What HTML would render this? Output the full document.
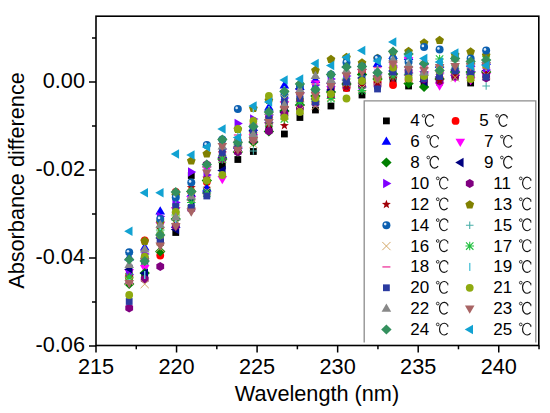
<!DOCTYPE html>
<html><head><meta charset="utf-8"><style>
html,body{margin:0;padding:0;background:#fff;}
svg{display:block;}
.t{font-family:"Liberation Sans",sans-serif;font-size:21.7px;fill:#000;}
.l{font-family:"Liberation Sans",sans-serif;font-size:17px;fill:#000;}
</style></head><body>
<svg width="550" height="413" viewBox="0 0 550 413">
<rect width="550" height="413" fill="#fff"/>
<rect x="125.80" y="276.60" width="6.80" height="6.80" fill="#000000"/>
<rect x="141.32" y="272.60" width="6.80" height="6.80" fill="#000000"/>
<rect x="156.84" y="239.10" width="6.80" height="6.80" fill="#000000"/>
<rect x="172.36" y="229.10" width="6.80" height="6.80" fill="#000000"/>
<rect x="187.88" y="172.10" width="6.80" height="6.80" fill="#000000"/>
<rect x="203.40" y="186.60" width="6.80" height="6.80" fill="#000000"/>
<rect x="218.92" y="162.60" width="6.80" height="6.80" fill="#000000"/>
<rect x="234.44" y="156.10" width="6.80" height="6.80" fill="#000000"/>
<rect x="249.96" y="148.10" width="6.80" height="6.80" fill="#000000"/>
<rect x="265.48" y="123.60" width="6.80" height="6.80" fill="#000000"/>
<rect x="281.00" y="130.60" width="6.80" height="6.80" fill="#000000"/>
<rect x="296.52" y="114.10" width="6.80" height="6.80" fill="#000000"/>
<rect x="312.04" y="106.60" width="6.80" height="6.80" fill="#000000"/>
<rect x="327.56" y="102.60" width="6.80" height="6.80" fill="#000000"/>
<rect x="343.08" y="84.60" width="6.80" height="6.80" fill="#000000"/>
<rect x="358.60" y="91.60" width="6.80" height="6.80" fill="#000000"/>
<rect x="374.12" y="82.60" width="6.80" height="6.80" fill="#000000"/>
<rect x="389.64" y="76.60" width="6.80" height="6.80" fill="#000000"/>
<rect x="405.16" y="82.60" width="6.80" height="6.80" fill="#000000"/>
<rect x="420.68" y="80.60" width="6.80" height="6.80" fill="#000000"/>
<rect x="436.20" y="78.60" width="6.80" height="6.80" fill="#000000"/>
<rect x="451.72" y="73.60" width="6.80" height="6.80" fill="#000000"/>
<rect x="467.24" y="79.60" width="6.80" height="6.80" fill="#000000"/>
<rect x="482.76" y="71.60" width="6.80" height="6.80" fill="#000000"/>
<circle cx="129.20" cy="275.00" r="3.90" fill="#FF0000"/>
<circle cx="144.72" cy="240.50" r="3.90" fill="#FF0000"/>
<circle cx="160.24" cy="255.50" r="3.90" fill="#FF0000"/>
<circle cx="175.76" cy="192.00" r="3.90" fill="#FF0000"/>
<circle cx="191.28" cy="191.50" r="3.90" fill="#FF0000"/>
<circle cx="206.80" cy="182.00" r="3.90" fill="#FF0000"/>
<circle cx="222.32" cy="159.00" r="3.90" fill="#FF0000"/>
<circle cx="237.84" cy="141.00" r="3.90" fill="#FF0000"/>
<circle cx="253.36" cy="133.00" r="3.90" fill="#FF0000"/>
<circle cx="268.88" cy="117.50" r="3.90" fill="#FF0000"/>
<circle cx="284.40" cy="107.00" r="3.90" fill="#FF0000"/>
<circle cx="299.92" cy="100.00" r="3.90" fill="#FF0000"/>
<circle cx="315.44" cy="92.00" r="3.90" fill="#FF0000"/>
<circle cx="330.96" cy="88.00" r="3.90" fill="#FF0000"/>
<circle cx="346.48" cy="88.00" r="3.90" fill="#FF0000"/>
<circle cx="362.00" cy="72.00" r="3.90" fill="#FF0000"/>
<circle cx="377.52" cy="82.00" r="3.90" fill="#FF0000"/>
<circle cx="393.04" cy="85.00" r="3.90" fill="#FF0000"/>
<circle cx="408.56" cy="80.00" r="3.90" fill="#FF0000"/>
<circle cx="424.08" cy="80.00" r="3.90" fill="#FF0000"/>
<circle cx="439.60" cy="78.00" r="3.90" fill="#FF0000"/>
<circle cx="455.12" cy="74.00" r="3.90" fill="#FF0000"/>
<circle cx="470.64" cy="61.50" r="3.90" fill="#FF0000"/>
<circle cx="486.16" cy="73.00" r="3.90" fill="#FF0000"/>
<polygon points="129.20,252.30 134.00,260.60 124.40,260.60" fill="#0000FF"/>
<polygon points="144.72,242.20 149.52,250.50 139.92,250.50" fill="#0000FF"/>
<polygon points="160.24,206.30 165.04,214.60 155.44,214.60" fill="#0000FF"/>
<polygon points="175.76,219.80 180.56,228.10 170.96,228.10" fill="#0000FF"/>
<polygon points="191.28,188.80 196.08,197.10 186.48,197.10" fill="#0000FF"/>
<polygon points="206.80,183.30 211.60,191.60 202.00,191.60" fill="#0000FF"/>
<polygon points="222.32,149.80 227.12,158.10 217.52,158.10" fill="#0000FF"/>
<polygon points="237.84,140.80 242.64,149.10 233.04,149.10" fill="#0000FF"/>
<polygon points="253.36,122.80 258.16,131.10 248.56,131.10" fill="#0000FF"/>
<polygon points="268.88,102.30 273.68,110.60 264.08,110.60" fill="#0000FF"/>
<polygon points="284.40,80.30 289.20,88.60 279.60,88.60" fill="#0000FF"/>
<polygon points="299.92,81.80 304.72,90.10 295.12,90.10" fill="#0000FF"/>
<polygon points="315.44,74.80 320.24,83.10 310.64,83.10" fill="#0000FF"/>
<polygon points="330.96,75.80 335.76,84.10 326.16,84.10" fill="#0000FF"/>
<polygon points="346.48,59.80 351.28,68.10 341.68,68.10" fill="#0000FF"/>
<polygon points="362.00,58.80 366.80,67.10 357.20,67.10" fill="#0000FF"/>
<polygon points="377.52,58.80 382.32,67.10 372.72,67.10" fill="#0000FF"/>
<polygon points="393.04,50.80 397.84,59.10 388.24,59.10" fill="#0000FF"/>
<polygon points="408.56,51.80 413.36,60.10 403.76,60.10" fill="#0000FF"/>
<polygon points="424.08,56.80 428.88,65.10 419.28,65.10" fill="#0000FF"/>
<polygon points="439.60,59.80 444.40,68.10 434.80,68.10" fill="#0000FF"/>
<polygon points="455.12,67.80 459.92,76.10 450.32,76.10" fill="#0000FF"/>
<polygon points="470.64,58.80 475.44,67.10 465.84,67.10" fill="#0000FF"/>
<polygon points="486.16,56.80 490.96,65.10 481.36,65.10" fill="#0000FF"/>
<polygon points="129.20,277.20 134.00,268.90 124.40,268.90" fill="#FF00FF"/>
<polygon points="144.72,273.20 149.52,264.90 139.92,264.90" fill="#FF00FF"/>
<polygon points="160.24,230.20 165.04,221.90 155.44,221.90" fill="#FF00FF"/>
<polygon points="175.76,215.20 180.56,206.90 170.96,206.90" fill="#FF00FF"/>
<polygon points="191.28,204.20 196.08,195.90 186.48,195.90" fill="#FF00FF"/>
<polygon points="206.80,174.20 211.60,165.90 202.00,165.90" fill="#FF00FF"/>
<polygon points="222.32,184.20 227.12,175.90 217.52,175.90" fill="#FF00FF"/>
<polygon points="237.84,155.20 242.64,146.90 233.04,146.90" fill="#FF00FF"/>
<polygon points="253.36,142.20 258.16,133.90 248.56,133.90" fill="#FF00FF"/>
<polygon points="268.88,130.20 273.68,121.90 264.08,121.90" fill="#FF00FF"/>
<polygon points="284.40,109.20 289.20,100.90 279.60,100.90" fill="#FF00FF"/>
<polygon points="299.92,113.20 304.72,104.90 295.12,104.90" fill="#FF00FF"/>
<polygon points="315.44,88.70 320.24,80.40 310.64,80.40" fill="#FF00FF"/>
<polygon points="330.96,94.20 335.76,85.90 326.16,85.90" fill="#FF00FF"/>
<polygon points="346.48,90.20 351.28,81.90 341.68,81.90" fill="#FF00FF"/>
<polygon points="362.00,77.20 366.80,68.90 357.20,68.90" fill="#FF00FF"/>
<polygon points="377.52,85.20 382.32,76.90 372.72,76.90" fill="#FF00FF"/>
<polygon points="393.04,75.20 397.84,66.90 388.24,66.90" fill="#FF00FF"/>
<polygon points="408.56,65.20 413.36,56.90 403.76,56.90" fill="#FF00FF"/>
<polygon points="424.08,79.20 428.88,70.90 419.28,70.90" fill="#FF00FF"/>
<polygon points="439.60,90.70 444.40,82.40 434.80,82.40" fill="#FF00FF"/>
<polygon points="455.12,82.70 459.92,74.40 450.32,74.40" fill="#FF00FF"/>
<polygon points="470.64,85.20 475.44,76.90 465.84,76.90" fill="#FF00FF"/>
<polygon points="486.16,81.20 490.96,72.90 481.36,72.90" fill="#FF00FF"/>
<polygon points="129.20,279.10 134.40,284.10 129.20,289.10 124.00,284.10" fill="#008000"/>
<polygon points="144.72,268.00 149.92,273.00 144.72,278.00 139.52,273.00" fill="#008000"/>
<polygon points="160.24,246.50 165.44,251.50 160.24,256.50 155.04,251.50" fill="#008000"/>
<polygon points="175.76,214.00 180.96,219.00 175.76,224.00 170.56,219.00" fill="#008000"/>
<polygon points="191.28,186.50 196.48,191.50 191.28,196.50 186.08,191.50" fill="#008000"/>
<polygon points="206.80,175.50 212.00,180.50 206.80,185.50 201.60,180.50" fill="#008000"/>
<polygon points="222.32,154.00 227.52,159.00 222.32,164.00 217.12,159.00" fill="#008000"/>
<polygon points="237.84,147.00 243.04,152.00 237.84,157.00 232.64,152.00" fill="#008000"/>
<polygon points="253.36,137.00 258.56,142.00 253.36,147.00 248.16,142.00" fill="#008000"/>
<polygon points="268.88,126.50 274.08,131.50 268.88,136.50 263.68,131.50" fill="#008000"/>
<polygon points="284.40,106.00 289.60,111.00 284.40,116.00 279.20,111.00" fill="#008000"/>
<polygon points="299.92,100.00 305.12,105.00 299.92,110.00 294.72,105.00" fill="#008000"/>
<polygon points="315.44,91.00 320.64,96.00 315.44,101.00 310.24,96.00" fill="#008000"/>
<polygon points="330.96,87.00 336.16,92.00 330.96,97.00 325.76,92.00" fill="#008000"/>
<polygon points="346.48,79.00 351.68,84.00 346.48,89.00 341.28,84.00" fill="#008000"/>
<polygon points="362.00,69.50 367.20,74.50 362.00,79.50 356.80,74.50" fill="#008000"/>
<polygon points="377.52,74.00 382.72,79.00 377.52,84.00 372.32,79.00" fill="#008000"/>
<polygon points="393.04,69.00 398.24,74.00 393.04,79.00 387.84,74.00" fill="#008000"/>
<polygon points="408.56,78.50 413.76,83.50 408.56,88.50 403.36,83.50" fill="#008000"/>
<polygon points="424.08,82.00 429.28,87.00 424.08,92.00 418.88,87.00" fill="#008000"/>
<polygon points="439.60,74.00 444.80,79.00 439.60,84.00 434.40,79.00" fill="#008000"/>
<polygon points="455.12,67.00 460.32,72.00 455.12,77.00 449.92,72.00" fill="#008000"/>
<polygon points="470.64,67.00 475.84,72.00 470.64,77.00 465.44,72.00" fill="#008000"/>
<polygon points="486.16,67.00 491.36,72.00 486.16,77.00 480.96,72.00" fill="#008000"/>
<polygon points="124.20,269.40 132.50,264.60 132.50,274.20" fill="#000080"/>
<polygon points="139.72,273.20 148.02,268.40 148.02,278.00" fill="#000080"/>
<polygon points="155.24,238.00 163.54,233.20 163.54,242.80" fill="#000080"/>
<polygon points="170.76,229.50 179.06,224.70 179.06,234.30" fill="#000080"/>
<polygon points="186.28,200.00 194.58,195.20 194.58,204.80" fill="#000080"/>
<polygon points="201.80,193.00 210.10,188.20 210.10,197.80" fill="#000080"/>
<polygon points="217.32,170.50 225.62,165.70 225.62,175.30" fill="#000080"/>
<polygon points="232.84,147.00 241.14,142.20 241.14,151.80" fill="#000080"/>
<polygon points="248.36,131.00 256.66,126.20 256.66,135.80" fill="#000080"/>
<polygon points="263.88,120.00 272.18,115.20 272.18,124.80" fill="#000080"/>
<polygon points="279.40,112.50 287.70,107.70 287.70,117.30" fill="#000080"/>
<polygon points="294.92,88.50 303.22,83.70 303.22,93.30" fill="#000080"/>
<polygon points="310.44,99.00 318.74,94.20 318.74,103.80" fill="#000080"/>
<polygon points="325.96,90.00 334.26,85.20 334.26,94.80" fill="#000080"/>
<polygon points="341.48,80.00 349.78,75.20 349.78,84.80" fill="#000080"/>
<polygon points="357.00,78.00 365.30,73.20 365.30,82.80" fill="#000080"/>
<polygon points="372.52,76.00 380.82,71.20 380.82,80.80" fill="#000080"/>
<polygon points="388.04,71.00 396.34,66.20 396.34,75.80" fill="#000080"/>
<polygon points="403.56,75.00 411.86,70.20 411.86,79.80" fill="#000080"/>
<polygon points="419.08,81.50 427.38,76.70 427.38,86.30" fill="#000080"/>
<polygon points="434.60,77.00 442.90,72.20 442.90,81.80" fill="#000080"/>
<polygon points="450.12,70.00 458.42,65.20 458.42,74.80" fill="#000080"/>
<polygon points="465.64,74.00 473.94,69.20 473.94,78.80" fill="#000080"/>
<polygon points="481.16,71.00 489.46,66.20 489.46,75.80" fill="#000080"/>
<polygon points="134.20,274.50 125.90,269.70 125.90,279.30" fill="#8000FF"/>
<polygon points="149.72,253.90 141.42,249.10 141.42,258.70" fill="#8000FF"/>
<polygon points="165.24,216.50 156.94,211.70 156.94,221.30" fill="#8000FF"/>
<polygon points="180.76,202.50 172.46,197.70 172.46,207.30" fill="#8000FF"/>
<polygon points="196.28,172.00 187.98,167.20 187.98,176.80" fill="#8000FF"/>
<polygon points="211.80,175.00 203.50,170.20 203.50,179.80" fill="#8000FF"/>
<polygon points="227.32,149.00 219.02,144.20 219.02,153.80" fill="#8000FF"/>
<polygon points="242.84,123.50 234.54,118.70 234.54,128.30" fill="#8000FF"/>
<polygon points="258.36,119.00 250.06,114.20 250.06,123.80" fill="#8000FF"/>
<polygon points="273.88,115.00 265.58,110.20 265.58,119.80" fill="#8000FF"/>
<polygon points="289.40,98.00 281.10,93.20 281.10,102.80" fill="#8000FF"/>
<polygon points="304.92,93.00 296.62,88.20 296.62,97.80" fill="#8000FF"/>
<polygon points="320.44,85.00 312.14,80.20 312.14,89.80" fill="#8000FF"/>
<polygon points="335.96,79.00 327.66,74.20 327.66,83.80" fill="#8000FF"/>
<polygon points="351.48,76.00 343.18,71.20 343.18,80.80" fill="#8000FF"/>
<polygon points="367.00,87.00 358.70,82.20 358.70,91.80" fill="#8000FF"/>
<polygon points="382.52,74.00 374.22,69.20 374.22,78.80" fill="#8000FF"/>
<polygon points="398.04,66.00 389.74,61.20 389.74,70.80" fill="#8000FF"/>
<polygon points="413.56,73.00 405.26,68.20 405.26,77.80" fill="#8000FF"/>
<polygon points="429.08,73.00 420.78,68.20 420.78,77.80" fill="#8000FF"/>
<polygon points="444.60,73.00 436.30,68.20 436.30,77.80" fill="#8000FF"/>
<polygon points="460.12,71.00 451.82,66.20 451.82,75.80" fill="#8000FF"/>
<polygon points="475.64,71.50 467.34,66.70 467.34,76.30" fill="#8000FF"/>
<polygon points="491.16,70.00 482.86,65.20 482.86,74.80" fill="#8000FF"/>
<polygon points="129.20,303.60 133.10,305.85 133.10,310.35 129.20,312.60 125.30,310.35 125.30,305.85" fill="#800080"/>
<polygon points="144.72,274.70 148.62,276.95 148.62,281.45 144.72,283.70 140.82,281.45 140.82,276.95" fill="#800080"/>
<polygon points="160.24,262.00 164.14,264.25 164.14,268.75 160.24,271.00 156.34,268.75 156.34,264.25" fill="#800080"/>
<polygon points="175.76,221.50 179.66,223.75 179.66,228.25 175.76,230.50 171.86,228.25 171.86,223.75" fill="#800080"/>
<polygon points="191.28,204.50 195.18,206.75 195.18,211.25 191.28,213.50 187.38,211.25 187.38,206.75" fill="#800080"/>
<polygon points="206.80,160.00 210.70,162.25 210.70,166.75 206.80,169.00 202.90,166.75 202.90,162.25" fill="#800080"/>
<polygon points="222.32,154.50 226.22,156.75 226.22,161.25 222.32,163.50 218.42,161.25 218.42,156.75" fill="#800080"/>
<polygon points="237.84,147.50 241.74,149.75 241.74,154.25 237.84,156.50 233.94,154.25 233.94,149.75" fill="#800080"/>
<polygon points="253.36,135.50 257.26,137.75 257.26,142.25 253.36,144.50 249.46,142.25 249.46,137.75" fill="#800080"/>
<polygon points="268.88,126.50 272.78,128.75 272.78,133.25 268.88,135.50 264.98,133.25 264.98,128.75" fill="#800080"/>
<polygon points="284.40,109.50 288.30,111.75 288.30,116.25 284.40,118.50 280.50,116.25 280.50,111.75" fill="#800080"/>
<polygon points="299.92,103.50 303.82,105.75 303.82,110.25 299.92,112.50 296.02,110.25 296.02,105.75" fill="#800080"/>
<polygon points="315.44,98.50 319.34,100.75 319.34,105.25 315.44,107.50 311.54,105.25 311.54,100.75" fill="#800080"/>
<polygon points="330.96,91.50 334.86,93.75 334.86,98.25 330.96,100.50 327.06,98.25 327.06,93.75" fill="#800080"/>
<polygon points="346.48,81.50 350.38,83.75 350.38,88.25 346.48,90.50 342.58,88.25 342.58,83.75" fill="#800080"/>
<polygon points="362.00,81.50 365.90,83.75 365.90,88.25 362.00,90.50 358.10,88.25 358.10,83.75" fill="#800080"/>
<polygon points="377.52,80.50 381.42,82.75 381.42,87.25 377.52,89.50 373.62,87.25 373.62,82.75" fill="#800080"/>
<polygon points="393.04,72.50 396.94,74.75 396.94,79.25 393.04,81.50 389.14,79.25 389.14,74.75" fill="#800080"/>
<polygon points="408.56,66.50 412.46,68.75 412.46,73.25 408.56,75.50 404.66,73.25 404.66,68.75" fill="#800080"/>
<polygon points="424.08,74.50 427.98,76.75 427.98,81.25 424.08,83.50 420.18,81.25 420.18,76.75" fill="#800080"/>
<polygon points="439.60,76.50 443.50,78.75 443.50,83.25 439.60,85.50 435.70,83.25 435.70,78.75" fill="#800080"/>
<polygon points="455.12,71.50 459.02,73.75 459.02,78.25 455.12,80.50 451.22,78.25 451.22,73.75" fill="#800080"/>
<polygon points="470.64,70.50 474.54,72.75 474.54,77.25 470.64,79.50 466.74,77.25 466.74,72.75" fill="#800080"/>
<polygon points="486.16,73.50 490.06,75.75 490.06,80.25 486.16,82.50 482.26,80.25 482.26,75.75" fill="#800080"/>
<polygon points="129.20,272.40 130.35,275.52 133.67,275.65 131.05,277.70 131.96,280.90 129.20,279.05 126.44,280.90 127.35,277.70 124.73,275.65 128.05,275.52" fill="#A00008"/>
<polygon points="144.72,256.40 145.87,259.52 149.19,259.65 146.57,261.70 147.48,264.90 144.72,263.05 141.96,264.90 142.87,261.70 140.25,259.65 143.57,259.52" fill="#A00008"/>
<polygon points="160.24,224.40 161.39,227.52 164.71,227.65 162.09,229.70 163.00,232.90 160.24,231.05 157.48,232.90 158.39,229.70 155.77,227.65 159.09,227.52" fill="#A00008"/>
<polygon points="175.76,209.40 176.91,212.52 180.23,212.65 177.61,214.70 178.52,217.90 175.76,216.05 173.00,217.90 173.91,214.70 171.29,212.65 174.61,212.52" fill="#A00008"/>
<polygon points="191.28,182.90 192.43,186.02 195.75,186.15 193.13,188.20 194.04,191.40 191.28,189.55 188.52,191.40 189.43,188.20 186.81,186.15 190.13,186.02" fill="#A00008"/>
<polygon points="206.80,173.40 207.95,176.52 211.27,176.65 208.65,178.70 209.56,181.90 206.80,180.05 204.04,181.90 204.95,178.70 202.33,176.65 205.65,176.52" fill="#A00008"/>
<polygon points="222.32,147.90 223.47,151.02 226.79,151.15 224.17,153.20 225.08,156.40 222.32,154.55 219.56,156.40 220.47,153.20 217.85,151.15 221.17,151.02" fill="#A00008"/>
<polygon points="237.84,144.90 238.99,148.02 242.31,148.15 239.69,150.20 240.60,153.40 237.84,151.55 235.08,153.40 235.99,150.20 233.37,148.15 236.69,148.02" fill="#A00008"/>
<polygon points="253.36,134.40 254.51,137.52 257.83,137.65 255.21,139.70 256.12,142.90 253.36,141.05 250.60,142.90 251.51,139.70 248.89,137.65 252.21,137.52" fill="#A00008"/>
<polygon points="268.88,119.40 270.03,122.52 273.35,122.65 270.73,124.70 271.64,127.90 268.88,126.05 266.12,127.90 267.03,124.70 264.41,122.65 267.73,122.52" fill="#A00008"/>
<polygon points="284.40,120.90 285.55,124.02 288.87,124.15 286.25,126.20 287.16,129.40 284.40,127.55 281.64,129.40 282.55,126.20 279.93,124.15 283.25,124.02" fill="#A00008"/>
<polygon points="299.92,90.40 301.07,93.52 304.39,93.65 301.77,95.70 302.68,98.90 299.92,97.05 297.16,98.90 298.07,95.70 295.45,93.65 298.77,93.52" fill="#A00008"/>
<polygon points="315.44,95.40 316.59,98.52 319.91,98.65 317.29,100.70 318.20,103.90 315.44,102.05 312.68,103.90 313.59,100.70 310.97,98.65 314.29,98.52" fill="#A00008"/>
<polygon points="330.96,90.40 332.11,93.52 335.43,93.65 332.81,95.70 333.72,98.90 330.96,97.05 328.20,98.90 329.11,95.70 326.49,93.65 329.81,93.52" fill="#A00008"/>
<polygon points="346.48,82.40 347.63,85.52 350.95,85.65 348.33,87.70 349.24,90.90 346.48,89.05 343.72,90.90 344.63,87.70 342.01,85.65 345.33,85.52" fill="#A00008"/>
<polygon points="362.00,79.40 363.15,82.52 366.47,82.65 363.85,84.70 364.76,87.90 362.00,86.05 359.24,87.90 360.15,84.70 357.53,82.65 360.85,82.52" fill="#A00008"/>
<polygon points="377.52,78.40 378.67,81.52 381.99,81.65 379.37,83.70 380.28,86.90 377.52,85.05 374.76,86.90 375.67,83.70 373.05,81.65 376.37,81.52" fill="#A00008"/>
<polygon points="393.04,73.40 394.19,76.52 397.51,76.65 394.89,78.70 395.80,81.90 393.04,80.05 390.28,81.90 391.19,78.70 388.57,76.65 391.89,76.52" fill="#A00008"/>
<polygon points="408.56,72.40 409.71,75.52 413.03,75.65 410.41,77.70 411.32,80.90 408.56,79.05 405.80,80.90 406.71,77.70 404.09,75.65 407.41,75.52" fill="#A00008"/>
<polygon points="424.08,72.40 425.23,75.52 428.55,75.65 425.93,77.70 426.84,80.90 424.08,79.05 421.32,80.90 422.23,77.70 419.61,75.65 422.93,75.52" fill="#A00008"/>
<polygon points="439.60,75.90 440.75,79.02 444.07,79.15 441.45,81.20 442.36,84.40 439.60,82.55 436.84,84.40 437.75,81.20 435.13,79.15 438.45,79.02" fill="#A00008"/>
<polygon points="455.12,70.40 456.27,73.52 459.59,73.65 456.97,75.70 457.88,78.90 455.12,77.05 452.36,78.90 453.27,75.70 450.65,73.65 453.97,73.52" fill="#A00008"/>
<polygon points="470.64,65.40 471.79,68.52 475.11,68.65 472.49,70.70 473.40,73.90 470.64,72.05 467.88,73.90 468.79,70.70 466.17,68.65 469.49,68.52" fill="#A00008"/>
<polygon points="486.16,69.40 487.31,72.52 490.63,72.65 488.01,74.70 488.92,77.90 486.16,76.05 483.40,77.90 484.31,74.70 481.69,72.65 485.01,72.52" fill="#A00008"/>
<polygon points="129.20,274.40 133.57,277.58 131.90,282.72 126.50,282.72 124.83,277.58" fill="#808000"/>
<polygon points="144.72,236.60 149.09,239.78 147.42,244.92 142.02,244.92 140.35,239.78" fill="#808000"/>
<polygon points="160.24,217.80 164.61,220.98 162.94,226.12 157.54,226.12 155.87,220.98" fill="#808000"/>
<polygon points="175.76,190.80 180.13,193.98 178.46,199.12 173.06,199.12 171.39,193.98" fill="#808000"/>
<polygon points="191.28,156.30 195.65,159.48 193.98,164.62 188.58,164.62 186.91,159.48" fill="#808000"/>
<polygon points="206.80,149.30 211.17,152.48 209.50,157.62 204.10,157.62 202.43,152.48" fill="#808000"/>
<polygon points="222.32,135.30 226.69,138.48 225.02,143.62 219.62,143.62 217.95,138.48" fill="#808000"/>
<polygon points="237.84,124.80 242.21,127.98 240.54,133.12 235.14,133.12 233.47,127.98" fill="#808000"/>
<polygon points="253.36,103.80 257.73,106.98 256.06,112.12 250.66,112.12 248.99,106.98" fill="#808000"/>
<polygon points="268.88,95.80 273.25,98.98 271.58,104.12 266.18,104.12 264.51,98.98" fill="#808000"/>
<polygon points="284.40,87.30 288.77,90.48 287.10,95.62 281.70,95.62 280.03,90.48" fill="#808000"/>
<polygon points="299.92,79.80 304.29,82.98 302.62,88.12 297.22,88.12 295.55,82.98" fill="#808000"/>
<polygon points="315.44,65.80 319.81,68.98 318.14,74.12 312.74,74.12 311.07,68.98" fill="#808000"/>
<polygon points="330.96,54.80 335.33,57.98 333.66,63.12 328.26,63.12 326.59,57.98" fill="#808000"/>
<polygon points="346.48,52.80 350.85,55.98 349.18,61.12 343.78,61.12 342.11,55.98" fill="#808000"/>
<polygon points="362.00,58.30 366.37,61.48 364.70,66.62 359.30,66.62 357.63,61.48" fill="#808000"/>
<polygon points="377.52,53.80 381.89,56.98 380.22,62.12 374.82,62.12 373.15,56.98" fill="#808000"/>
<polygon points="393.04,47.30 397.41,50.48 395.74,55.62 390.34,55.62 388.67,50.48" fill="#808000"/>
<polygon points="408.56,46.80 412.93,49.98 411.26,55.12 405.86,55.12 404.19,49.98" fill="#808000"/>
<polygon points="424.08,38.30 428.45,41.48 426.78,46.62 421.38,46.62 419.71,41.48" fill="#808000"/>
<polygon points="439.60,35.80 443.97,38.98 442.30,44.12 436.90,44.12 435.23,38.98" fill="#808000"/>
<polygon points="455.12,50.30 459.49,53.48 457.82,58.62 452.42,58.62 450.75,53.48" fill="#808000"/>
<polygon points="470.64,47.30 475.01,50.48 473.34,55.62 467.94,55.62 466.27,50.48" fill="#808000"/>
<polygon points="486.16,50.80 490.53,53.98 488.86,59.12 483.46,59.12 481.79,53.98" fill="#808000"/>
<circle cx="129.20" cy="252.30" r="4.00" fill="#0B5FB0"/><circle cx="128.00" cy="251.20" r="1.30" fill="#d8e8f8"/>
<circle cx="144.72" cy="258.00" r="4.00" fill="#0B5FB0"/><circle cx="143.52" cy="256.90" r="1.30" fill="#d8e8f8"/>
<circle cx="160.24" cy="219.00" r="4.00" fill="#0B5FB0"/><circle cx="159.04" cy="217.90" r="1.30" fill="#d8e8f8"/>
<circle cx="175.76" cy="197.50" r="4.00" fill="#0B5FB0"/><circle cx="174.56" cy="196.40" r="1.30" fill="#d8e8f8"/>
<circle cx="191.28" cy="182.50" r="4.00" fill="#0B5FB0"/><circle cx="190.08" cy="181.40" r="1.30" fill="#d8e8f8"/>
<circle cx="206.80" cy="145.00" r="4.00" fill="#0B5FB0"/><circle cx="205.60" cy="143.90" r="1.30" fill="#d8e8f8"/>
<circle cx="222.32" cy="139.50" r="4.00" fill="#0B5FB0"/><circle cx="221.12" cy="138.40" r="1.30" fill="#d8e8f8"/>
<circle cx="237.84" cy="109.00" r="4.00" fill="#0B5FB0"/><circle cx="236.64" cy="107.90" r="1.30" fill="#d8e8f8"/>
<circle cx="253.36" cy="126.50" r="4.00" fill="#0B5FB0"/><circle cx="252.16" cy="125.40" r="1.30" fill="#d8e8f8"/>
<circle cx="268.88" cy="112.00" r="4.00" fill="#0B5FB0"/><circle cx="267.68" cy="110.90" r="1.30" fill="#d8e8f8"/>
<circle cx="284.40" cy="95.00" r="4.00" fill="#0B5FB0"/><circle cx="283.20" cy="93.90" r="1.30" fill="#d8e8f8"/>
<circle cx="299.92" cy="86.00" r="4.00" fill="#0B5FB0"/><circle cx="298.72" cy="84.90" r="1.30" fill="#d8e8f8"/>
<circle cx="315.44" cy="89.50" r="4.00" fill="#0B5FB0"/><circle cx="314.24" cy="88.40" r="1.30" fill="#d8e8f8"/>
<circle cx="330.96" cy="74.50" r="4.00" fill="#0B5FB0"/><circle cx="329.76" cy="73.40" r="1.30" fill="#d8e8f8"/>
<circle cx="346.48" cy="62.50" r="4.00" fill="#0B5FB0"/><circle cx="345.28" cy="61.40" r="1.30" fill="#d8e8f8"/>
<circle cx="362.00" cy="66.50" r="4.00" fill="#0B5FB0"/><circle cx="360.80" cy="65.40" r="1.30" fill="#d8e8f8"/>
<circle cx="377.52" cy="58.50" r="4.00" fill="#0B5FB0"/><circle cx="376.32" cy="57.40" r="1.30" fill="#d8e8f8"/>
<circle cx="393.04" cy="59.00" r="4.00" fill="#0B5FB0"/><circle cx="391.84" cy="57.90" r="1.30" fill="#d8e8f8"/>
<circle cx="408.56" cy="62.00" r="4.00" fill="#0B5FB0"/><circle cx="407.36" cy="60.90" r="1.30" fill="#d8e8f8"/>
<circle cx="424.08" cy="47.00" r="4.00" fill="#0B5FB0"/><circle cx="422.88" cy="45.90" r="1.30" fill="#d8e8f8"/>
<circle cx="439.60" cy="49.50" r="4.00" fill="#0B5FB0"/><circle cx="438.40" cy="48.40" r="1.30" fill="#d8e8f8"/>
<circle cx="455.12" cy="58.50" r="4.00" fill="#0B5FB0"/><circle cx="453.92" cy="57.40" r="1.30" fill="#d8e8f8"/>
<circle cx="470.64" cy="58.50" r="4.00" fill="#0B5FB0"/><circle cx="469.44" cy="57.40" r="1.30" fill="#d8e8f8"/>
<circle cx="486.16" cy="50.50" r="4.00" fill="#0B5FB0"/><circle cx="484.96" cy="49.40" r="1.30" fill="#d8e8f8"/>
<path d="M125.40 283.00H133.00M129.20 279.20V286.80" stroke="#48AEA8" stroke-width="1.10" fill="none"/>
<path d="M140.92 258.00H148.52M144.72 254.20V261.80" stroke="#48AEA8" stroke-width="1.10" fill="none"/>
<path d="M156.44 232.00H164.04M160.24 228.20V235.80" stroke="#48AEA8" stroke-width="1.10" fill="none"/>
<path d="M171.96 205.00H179.56M175.76 201.20V208.80" stroke="#48AEA8" stroke-width="1.10" fill="none"/>
<path d="M187.48 207.50H195.08M191.28 203.70V211.30" stroke="#48AEA8" stroke-width="1.10" fill="none"/>
<path d="M203.00 170.00H210.60M206.80 166.20V173.80" stroke="#48AEA8" stroke-width="1.10" fill="none"/>
<path d="M218.52 155.00H226.12M222.32 151.20V158.80" stroke="#48AEA8" stroke-width="1.10" fill="none"/>
<path d="M234.04 140.00H241.64M237.84 136.20V143.80" stroke="#48AEA8" stroke-width="1.10" fill="none"/>
<path d="M249.56 151.00H257.16M253.36 147.20V154.80" stroke="#48AEA8" stroke-width="1.10" fill="none"/>
<path d="M265.08 118.00H272.68M268.88 114.20V121.80" stroke="#48AEA8" stroke-width="1.10" fill="none"/>
<path d="M280.60 100.00H288.20M284.40 96.20V103.80" stroke="#48AEA8" stroke-width="1.10" fill="none"/>
<path d="M296.12 97.00H303.72M299.92 93.20V100.80" stroke="#48AEA8" stroke-width="1.10" fill="none"/>
<path d="M311.64 88.00H319.24M315.44 84.20V91.80" stroke="#48AEA8" stroke-width="1.10" fill="none"/>
<path d="M327.16 84.00H334.76M330.96 80.20V87.80" stroke="#48AEA8" stroke-width="1.10" fill="none"/>
<path d="M342.68 78.00H350.28M346.48 74.20V81.80" stroke="#48AEA8" stroke-width="1.10" fill="none"/>
<path d="M358.20 76.00H365.80M362.00 72.20V79.80" stroke="#48AEA8" stroke-width="1.10" fill="none"/>
<path d="M373.72 73.00H381.32M377.52 69.20V76.80" stroke="#48AEA8" stroke-width="1.10" fill="none"/>
<path d="M389.24 62.00H396.84M393.04 58.20V65.80" stroke="#48AEA8" stroke-width="1.10" fill="none"/>
<path d="M404.76 66.00H412.36M408.56 62.20V69.80" stroke="#48AEA8" stroke-width="1.10" fill="none"/>
<path d="M420.28 68.00H427.88M424.08 64.20V71.80" stroke="#48AEA8" stroke-width="1.10" fill="none"/>
<path d="M435.80 68.00H443.40M439.60 64.20V71.80" stroke="#48AEA8" stroke-width="1.10" fill="none"/>
<path d="M451.32 68.00H458.92M455.12 64.20V71.80" stroke="#48AEA8" stroke-width="1.10" fill="none"/>
<path d="M466.84 68.00H474.44M470.64 64.20V71.80" stroke="#48AEA8" stroke-width="1.10" fill="none"/>
<path d="M482.36 86.00H489.96M486.16 82.20V89.80" stroke="#48AEA8" stroke-width="1.10" fill="none"/>
<path d="M125.10 276.90L133.30 285.10M133.30 276.90L125.10 285.10" stroke="#D4A868" stroke-width="1.00" fill="none"/>
<path d="M140.62 280.00L148.82 288.20M148.82 280.00L140.62 288.20" stroke="#D4A868" stroke-width="1.00" fill="none"/>
<path d="M156.14 243.90L164.34 252.10M164.34 243.90L156.14 252.10" stroke="#D4A868" stroke-width="1.00" fill="none"/>
<path d="M171.66 215.90L179.86 224.10M179.86 215.90L171.66 224.10" stroke="#D4A868" stroke-width="1.00" fill="none"/>
<path d="M187.18 199.90L195.38 208.10M195.38 199.90L187.18 208.10" stroke="#D4A868" stroke-width="1.00" fill="none"/>
<path d="M202.70 186.90L210.90 195.10M210.90 186.90L202.70 195.10" stroke="#D4A868" stroke-width="1.00" fill="none"/>
<path d="M218.22 154.90L226.42 163.10M226.42 154.90L218.22 163.10" stroke="#D4A868" stroke-width="1.00" fill="none"/>
<path d="M233.74 143.90L241.94 152.10M241.94 143.90L233.74 152.10" stroke="#D4A868" stroke-width="1.00" fill="none"/>
<path d="M249.26 139.90L257.46 148.10M257.46 139.90L249.26 148.10" stroke="#D4A868" stroke-width="1.00" fill="none"/>
<path d="M264.78 117.90L272.98 126.10M272.98 117.90L264.78 126.10" stroke="#D4A868" stroke-width="1.00" fill="none"/>
<path d="M280.30 94.40L288.50 102.60M288.50 94.40L280.30 102.60" stroke="#D4A868" stroke-width="1.00" fill="none"/>
<path d="M295.82 105.90L304.02 114.10M304.02 105.90L295.82 114.10" stroke="#D4A868" stroke-width="1.00" fill="none"/>
<path d="M311.34 101.90L319.54 110.10M319.54 101.90L311.34 110.10" stroke="#D4A868" stroke-width="1.00" fill="none"/>
<path d="M326.86 92.90L335.06 101.10M335.06 92.90L326.86 101.10" stroke="#D4A868" stroke-width="1.00" fill="none"/>
<path d="M342.38 78.90L350.58 87.10M350.58 78.90L342.38 87.10" stroke="#D4A868" stroke-width="1.00" fill="none"/>
<path d="M357.90 83.90L366.10 92.10M366.10 83.90L357.90 92.10" stroke="#D4A868" stroke-width="1.00" fill="none"/>
<path d="M373.42 76.90L381.62 85.10M381.62 76.90L373.42 85.10" stroke="#D4A868" stroke-width="1.00" fill="none"/>
<path d="M388.94 68.90L397.14 77.10M397.14 68.90L388.94 77.10" stroke="#D4A868" stroke-width="1.00" fill="none"/>
<path d="M404.46 74.90L412.66 83.10M412.66 74.90L404.46 83.10" stroke="#D4A868" stroke-width="1.00" fill="none"/>
<path d="M419.98 60.40L428.18 68.60M428.18 60.40L419.98 68.60" stroke="#D4A868" stroke-width="1.00" fill="none"/>
<path d="M435.50 66.40L443.70 74.60M443.70 66.40L435.50 74.60" stroke="#D4A868" stroke-width="1.00" fill="none"/>
<path d="M451.02 73.40L459.22 81.60M459.22 73.40L451.02 81.60" stroke="#D4A868" stroke-width="1.00" fill="none"/>
<path d="M466.54 72.90L474.74 81.10M474.74 72.90L466.54 81.10" stroke="#D4A868" stroke-width="1.00" fill="none"/>
<path d="M482.06 70.90L490.26 79.10M490.26 70.90L482.06 79.10" stroke="#D4A868" stroke-width="1.00" fill="none"/>
<path d="M124.90 277.00L133.50 277.00M129.20 272.70L129.20 281.30M125.50 273.30L132.90 280.70M132.90 273.30L125.50 280.70" stroke="#22C040" stroke-width="1.10" fill="none"/>
<path d="M140.42 261.00L149.02 261.00M144.72 256.70L144.72 265.30M141.02 257.30L148.42 264.70M148.42 257.30L141.02 264.70" stroke="#22C040" stroke-width="1.10" fill="none"/>
<path d="M155.94 230.00L164.54 230.00M160.24 225.70L160.24 234.30M156.54 226.30L163.94 233.70M163.94 226.30L156.54 233.70" stroke="#22C040" stroke-width="1.10" fill="none"/>
<path d="M171.46 215.00L180.06 215.00M175.76 210.70L175.76 219.30M172.06 211.30L179.46 218.70M179.46 211.30L172.06 218.70" stroke="#22C040" stroke-width="1.10" fill="none"/>
<path d="M186.98 202.50L195.58 202.50M191.28 198.20L191.28 206.80M187.58 198.80L194.98 206.20M194.98 198.80L187.58 206.20" stroke="#22C040" stroke-width="1.10" fill="none"/>
<path d="M202.50 193.00L211.10 193.00M206.80 188.70L206.80 197.30M203.10 189.30L210.50 196.70M210.50 189.30L203.10 196.70" stroke="#22C040" stroke-width="1.10" fill="none"/>
<path d="M218.02 159.00L226.62 159.00M222.32 154.70L222.32 163.30M218.62 155.30L226.02 162.70M226.02 155.30L218.62 162.70" stroke="#22C040" stroke-width="1.10" fill="none"/>
<path d="M233.54 145.00L242.14 145.00M237.84 140.70L237.84 149.30M234.14 141.30L241.54 148.70M241.54 141.30L234.14 148.70" stroke="#22C040" stroke-width="1.10" fill="none"/>
<path d="M249.06 136.00L257.66 136.00M253.36 131.70L253.36 140.30M249.66 132.30L257.06 139.70M257.06 132.30L249.66 139.70" stroke="#22C040" stroke-width="1.10" fill="none"/>
<path d="M264.58 123.00L273.18 123.00M268.88 118.70L268.88 127.30M265.18 119.30L272.58 126.70M272.58 119.30L265.18 126.70" stroke="#22C040" stroke-width="1.10" fill="none"/>
<path d="M280.10 119.00L288.70 119.00M284.40 114.70L284.40 123.30M280.70 115.30L288.10 122.70M288.10 115.30L280.70 122.70" stroke="#22C040" stroke-width="1.10" fill="none"/>
<path d="M295.62 102.00L304.22 102.00M299.92 97.70L299.92 106.30M296.22 98.30L303.62 105.70M303.62 98.30L296.22 105.70" stroke="#22C040" stroke-width="1.10" fill="none"/>
<path d="M311.14 101.00L319.74 101.00M315.44 96.70L315.44 105.30M311.74 97.30L319.14 104.70M319.14 97.30L311.74 104.70" stroke="#22C040" stroke-width="1.10" fill="none"/>
<path d="M326.66 98.50L335.26 98.50M330.96 94.20L330.96 102.80M327.26 94.80L334.66 102.20M334.66 94.80L327.26 102.20" stroke="#22C040" stroke-width="1.10" fill="none"/>
<path d="M342.18 82.00L350.78 82.00M346.48 77.70L346.48 86.30M342.78 78.30L350.18 85.70M350.18 78.30L342.78 85.70" stroke="#22C040" stroke-width="1.10" fill="none"/>
<path d="M357.70 90.50L366.30 90.50M362.00 86.20L362.00 94.80M358.30 86.80L365.70 94.20M365.70 86.80L358.30 94.20" stroke="#22C040" stroke-width="1.10" fill="none"/>
<path d="M373.22 77.00L381.82 77.00M377.52 72.70L377.52 81.30M373.82 73.30L381.22 80.70M381.22 73.30L373.82 80.70" stroke="#22C040" stroke-width="1.10" fill="none"/>
<path d="M388.74 76.00L397.34 76.00M393.04 71.70L393.04 80.30M389.34 72.30L396.74 79.70M396.74 72.30L389.34 79.70" stroke="#22C040" stroke-width="1.10" fill="none"/>
<path d="M404.26 74.00L412.86 74.00M408.56 69.70L408.56 78.30M404.86 70.30L412.26 77.70M412.26 70.30L404.86 77.70" stroke="#22C040" stroke-width="1.10" fill="none"/>
<path d="M419.78 75.00L428.38 75.00M424.08 70.70L424.08 79.30M420.38 71.30L427.78 78.70M427.78 71.30L420.38 78.70" stroke="#22C040" stroke-width="1.10" fill="none"/>
<path d="M435.30 59.00L443.90 59.00M439.60 54.70L439.60 63.30M435.90 55.30L443.30 62.70M443.30 55.30L435.90 62.70" stroke="#22C040" stroke-width="1.10" fill="none"/>
<path d="M450.82 69.00L459.42 69.00M455.12 64.70L455.12 73.30M451.42 65.30L458.82 72.70M458.82 65.30L451.42 72.70" stroke="#22C040" stroke-width="1.10" fill="none"/>
<path d="M466.34 73.00L474.94 73.00M470.64 68.70L470.64 77.30M466.94 69.30L474.34 76.70M474.34 69.30L466.94 76.70" stroke="#22C040" stroke-width="1.10" fill="none"/>
<path d="M481.86 60.00L490.46 60.00M486.16 55.70L486.16 64.30M482.46 56.30L489.86 63.70M489.86 56.30L482.46 63.70" stroke="#22C040" stroke-width="1.10" fill="none"/>
<path d="M125.20 283.00H133.20" stroke="#F050A8" stroke-width="1.50" fill="none"/>
<path d="M140.72 262.00H148.72" stroke="#F050A8" stroke-width="1.50" fill="none"/>
<path d="M156.24 236.00H164.24" stroke="#F050A8" stroke-width="1.50" fill="none"/>
<path d="M171.76 208.00H179.76" stroke="#F050A8" stroke-width="1.50" fill="none"/>
<path d="M187.28 193.00H195.28" stroke="#F050A8" stroke-width="1.50" fill="none"/>
<path d="M202.80 167.00H210.80" stroke="#F050A8" stroke-width="1.50" fill="none"/>
<path d="M218.32 152.50H226.32" stroke="#F050A8" stroke-width="1.50" fill="none"/>
<path d="M233.84 135.00H241.84" stroke="#F050A8" stroke-width="1.50" fill="none"/>
<path d="M249.36 124.00H257.36" stroke="#F050A8" stroke-width="1.50" fill="none"/>
<path d="M264.88 114.00H272.88" stroke="#F050A8" stroke-width="1.50" fill="none"/>
<path d="M280.40 102.00H288.40" stroke="#F050A8" stroke-width="1.50" fill="none"/>
<path d="M295.92 92.00H303.92" stroke="#F050A8" stroke-width="1.50" fill="none"/>
<path d="M311.44 84.00H319.44" stroke="#F050A8" stroke-width="1.50" fill="none"/>
<path d="M326.96 83.00H334.96" stroke="#F050A8" stroke-width="1.50" fill="none"/>
<path d="M342.48 73.00H350.48" stroke="#F050A8" stroke-width="1.50" fill="none"/>
<path d="M358.00 70.00H366.00" stroke="#F050A8" stroke-width="1.50" fill="none"/>
<path d="M373.52 67.50H381.52" stroke="#F050A8" stroke-width="1.50" fill="none"/>
<path d="M389.04 64.00H397.04" stroke="#F050A8" stroke-width="1.50" fill="none"/>
<path d="M404.56 70.00H412.56" stroke="#F050A8" stroke-width="1.50" fill="none"/>
<path d="M420.08 66.00H428.08" stroke="#F050A8" stroke-width="1.50" fill="none"/>
<path d="M435.60 72.00H443.60" stroke="#F050A8" stroke-width="1.50" fill="none"/>
<path d="M451.12 64.00H459.12" stroke="#F050A8" stroke-width="1.50" fill="none"/>
<path d="M466.64 67.00H474.64" stroke="#F050A8" stroke-width="1.50" fill="none"/>
<path d="M482.16 68.00H490.16" stroke="#F050A8" stroke-width="1.50" fill="none"/>
<path d="M129.20 279.00V287.00" stroke="#60C8DC" stroke-width="1.50" fill="none"/>
<path d="M144.72 271.00V279.00" stroke="#60C8DC" stroke-width="1.50" fill="none"/>
<path d="M160.24 222.00V230.00" stroke="#60C8DC" stroke-width="1.50" fill="none"/>
<path d="M175.76 217.00V225.00" stroke="#60C8DC" stroke-width="1.50" fill="none"/>
<path d="M191.28 207.50V215.50" stroke="#60C8DC" stroke-width="1.50" fill="none"/>
<path d="M206.80 170.00V178.00" stroke="#60C8DC" stroke-width="1.50" fill="none"/>
<path d="M222.32 146.00V154.00" stroke="#60C8DC" stroke-width="1.50" fill="none"/>
<path d="M237.84 129.00V137.00" stroke="#60C8DC" stroke-width="1.50" fill="none"/>
<path d="M253.36 104.50V112.50" stroke="#60C8DC" stroke-width="1.50" fill="none"/>
<path d="M268.88 106.00V114.00" stroke="#60C8DC" stroke-width="1.50" fill="none"/>
<path d="M284.40 86.00V94.00" stroke="#60C8DC" stroke-width="1.50" fill="none"/>
<path d="M299.92 92.00V100.00" stroke="#60C8DC" stroke-width="1.50" fill="none"/>
<path d="M315.44 83.00V91.00" stroke="#60C8DC" stroke-width="1.50" fill="none"/>
<path d="M330.96 73.00V81.00" stroke="#60C8DC" stroke-width="1.50" fill="none"/>
<path d="M346.48 67.00V75.00" stroke="#60C8DC" stroke-width="1.50" fill="none"/>
<path d="M362.00 64.00V72.00" stroke="#60C8DC" stroke-width="1.50" fill="none"/>
<path d="M377.52 65.00V73.00" stroke="#60C8DC" stroke-width="1.50" fill="none"/>
<path d="M393.04 54.00V62.00" stroke="#60C8DC" stroke-width="1.50" fill="none"/>
<path d="M408.56 58.00V66.00" stroke="#60C8DC" stroke-width="1.50" fill="none"/>
<path d="M424.08 60.00V68.00" stroke="#60C8DC" stroke-width="1.50" fill="none"/>
<path d="M439.60 62.00V70.00" stroke="#60C8DC" stroke-width="1.50" fill="none"/>
<path d="M455.12 59.00V67.00" stroke="#60C8DC" stroke-width="1.50" fill="none"/>
<path d="M470.64 65.00V73.00" stroke="#60C8DC" stroke-width="1.50" fill="none"/>
<path d="M486.16 63.00V71.00" stroke="#60C8DC" stroke-width="1.50" fill="none"/>
<rect x="125.80" y="298.10" width="6.80" height="6.80" fill="#2B3BA0"/>
<rect x="141.32" y="257.60" width="6.80" height="6.80" fill="#2B3BA0"/>
<rect x="156.84" y="236.60" width="6.80" height="6.80" fill="#2B3BA0"/>
<rect x="172.36" y="203.10" width="6.80" height="6.80" fill="#2B3BA0"/>
<rect x="187.88" y="204.10" width="6.80" height="6.80" fill="#2B3BA0"/>
<rect x="203.40" y="192.60" width="6.80" height="6.80" fill="#2B3BA0"/>
<rect x="218.92" y="149.10" width="6.80" height="6.80" fill="#2B3BA0"/>
<rect x="234.44" y="140.60" width="6.80" height="6.80" fill="#2B3BA0"/>
<rect x="249.96" y="126.60" width="6.80" height="6.80" fill="#2B3BA0"/>
<rect x="265.48" y="116.10" width="6.80" height="6.80" fill="#2B3BA0"/>
<rect x="281.00" y="98.60" width="6.80" height="6.80" fill="#2B3BA0"/>
<rect x="296.52" y="95.10" width="6.80" height="6.80" fill="#2B3BA0"/>
<rect x="312.04" y="98.60" width="6.80" height="6.80" fill="#2B3BA0"/>
<rect x="327.56" y="81.60" width="6.80" height="6.80" fill="#2B3BA0"/>
<rect x="343.08" y="78.60" width="6.80" height="6.80" fill="#2B3BA0"/>
<rect x="358.60" y="77.60" width="6.80" height="6.80" fill="#2B3BA0"/>
<rect x="374.12" y="85.60" width="6.80" height="6.80" fill="#2B3BA0"/>
<rect x="389.64" y="68.60" width="6.80" height="6.80" fill="#2B3BA0"/>
<rect x="405.16" y="68.60" width="6.80" height="6.80" fill="#2B3BA0"/>
<rect x="420.68" y="75.10" width="6.80" height="6.80" fill="#2B3BA0"/>
<rect x="436.20" y="73.10" width="6.80" height="6.80" fill="#2B3BA0"/>
<rect x="451.72" y="67.60" width="6.80" height="6.80" fill="#2B3BA0"/>
<rect x="467.24" y="68.60" width="6.80" height="6.80" fill="#2B3BA0"/>
<rect x="482.76" y="73.60" width="6.80" height="6.80" fill="#2B3BA0"/>
<circle cx="129.20" cy="295.00" r="3.90" fill="#8FAA10"/>
<circle cx="144.72" cy="256.60" r="3.90" fill="#8FAA10"/>
<circle cx="160.24" cy="235.00" r="3.90" fill="#8FAA10"/>
<circle cx="175.76" cy="212.00" r="3.90" fill="#8FAA10"/>
<circle cx="191.28" cy="191.50" r="3.90" fill="#8FAA10"/>
<circle cx="206.80" cy="180.50" r="3.90" fill="#8FAA10"/>
<circle cx="222.32" cy="175.00" r="3.90" fill="#8FAA10"/>
<circle cx="237.84" cy="129.00" r="3.90" fill="#8FAA10"/>
<circle cx="253.36" cy="121.00" r="3.90" fill="#8FAA10"/>
<circle cx="268.88" cy="96.00" r="3.90" fill="#8FAA10"/>
<circle cx="284.40" cy="117.50" r="3.90" fill="#8FAA10"/>
<circle cx="299.92" cy="112.00" r="3.90" fill="#8FAA10"/>
<circle cx="315.44" cy="98.00" r="3.90" fill="#8FAA10"/>
<circle cx="330.96" cy="94.00" r="3.90" fill="#8FAA10"/>
<circle cx="346.48" cy="98.50" r="3.90" fill="#8FAA10"/>
<circle cx="362.00" cy="81.00" r="3.90" fill="#8FAA10"/>
<circle cx="377.52" cy="78.50" r="3.90" fill="#8FAA10"/>
<circle cx="393.04" cy="67.50" r="3.90" fill="#8FAA10"/>
<circle cx="408.56" cy="78.50" r="3.90" fill="#8FAA10"/>
<circle cx="424.08" cy="76.00" r="3.90" fill="#8FAA10"/>
<circle cx="439.60" cy="70.50" r="3.90" fill="#8FAA10"/>
<circle cx="455.12" cy="58.50" r="3.90" fill="#8FAA10"/>
<circle cx="470.64" cy="79.00" r="3.90" fill="#8FAA10"/>
<circle cx="486.16" cy="65.50" r="3.90" fill="#8FAA10"/>
<polygon points="129.20,259.60 134.00,267.90 124.40,267.90" fill="#888888"/>
<polygon points="144.72,244.30 149.52,252.60 139.92,252.60" fill="#888888"/>
<polygon points="160.24,219.80 165.04,228.10 155.44,228.10" fill="#888888"/>
<polygon points="175.76,212.30 180.56,220.60 170.96,220.60" fill="#888888"/>
<polygon points="191.28,191.30 196.08,199.60 186.48,199.60" fill="#888888"/>
<polygon points="206.80,159.30 211.60,167.60 202.00,167.60" fill="#888888"/>
<polygon points="222.32,141.30 227.12,149.60 217.52,149.60" fill="#888888"/>
<polygon points="237.84,133.80 242.64,142.10 233.04,142.10" fill="#888888"/>
<polygon points="253.36,129.30 258.16,137.60 248.56,137.60" fill="#888888"/>
<polygon points="268.88,106.80 273.68,115.10 264.08,115.10" fill="#888888"/>
<polygon points="284.40,99.80 289.20,108.10 279.60,108.10" fill="#888888"/>
<polygon points="299.92,84.80 304.72,93.10 295.12,93.10" fill="#888888"/>
<polygon points="315.44,70.80 320.24,79.10 310.64,79.10" fill="#888888"/>
<polygon points="330.96,74.80 335.76,83.10 326.16,83.10" fill="#888888"/>
<polygon points="346.48,65.30 351.28,73.60 341.68,73.60" fill="#888888"/>
<polygon points="362.00,61.30 366.80,69.60 357.20,69.60" fill="#888888"/>
<polygon points="377.52,65.80 382.32,74.10 372.72,74.10" fill="#888888"/>
<polygon points="393.04,54.80 397.84,63.10 388.24,63.10" fill="#888888"/>
<polygon points="408.56,59.80 413.36,68.10 403.76,68.10" fill="#888888"/>
<polygon points="424.08,67.30 428.88,75.60 419.28,75.60" fill="#888888"/>
<polygon points="439.60,58.80 444.40,67.10 434.80,67.10" fill="#888888"/>
<polygon points="455.12,53.30 459.92,61.60 450.32,61.60" fill="#888888"/>
<polygon points="470.64,56.30 475.44,64.60 465.84,64.60" fill="#888888"/>
<polygon points="486.16,54.80 490.96,63.10 481.36,63.10" fill="#888888"/>
<polygon points="129.20,288.20 134.00,279.90 124.40,279.90" fill="#A86464"/>
<polygon points="144.72,266.20 149.52,257.90 139.92,257.90" fill="#A86464"/>
<polygon points="160.24,250.70 165.04,242.40 155.44,242.40" fill="#A86464"/>
<polygon points="175.76,231.20 180.56,222.90 170.96,222.90" fill="#A86464"/>
<polygon points="191.28,216.70 196.08,208.40 186.48,208.40" fill="#A86464"/>
<polygon points="206.80,177.70 211.60,169.40 202.00,169.40" fill="#A86464"/>
<polygon points="222.32,151.20 227.12,142.90 217.52,142.90" fill="#A86464"/>
<polygon points="237.84,154.70 242.64,146.40 233.04,146.40" fill="#A86464"/>
<polygon points="253.36,145.20 258.16,136.90 248.56,136.90" fill="#A86464"/>
<polygon points="268.88,127.20 273.68,118.90 264.08,118.90" fill="#A86464"/>
<polygon points="284.40,114.20 289.20,105.90 279.60,105.90" fill="#A86464"/>
<polygon points="299.92,100.20 304.72,91.90 295.12,91.90" fill="#A86464"/>
<polygon points="315.44,100.20 320.24,91.90 310.64,91.90" fill="#A86464"/>
<polygon points="330.96,91.20 335.76,82.90 326.16,82.90" fill="#A86464"/>
<polygon points="346.48,80.70 351.28,72.40 341.68,72.40" fill="#A86464"/>
<polygon points="362.00,77.20 366.80,68.90 357.20,68.90" fill="#A86464"/>
<polygon points="377.52,83.70 382.32,75.40 372.72,75.40" fill="#A86464"/>
<polygon points="393.04,68.70 397.84,60.40 388.24,60.40" fill="#A86464"/>
<polygon points="408.56,74.20 413.36,65.90 403.76,65.90" fill="#A86464"/>
<polygon points="424.08,75.20 428.88,66.90 419.28,66.90" fill="#A86464"/>
<polygon points="439.60,72.20 444.40,63.90 434.80,63.90" fill="#A86464"/>
<polygon points="455.12,71.20 459.92,62.90 450.32,62.90" fill="#A86464"/>
<polygon points="470.64,71.20 475.44,62.90 465.84,62.90" fill="#A86464"/>
<polygon points="486.16,70.70 490.96,62.40 481.36,62.40" fill="#A86464"/>
<polygon points="129.20,254.40 134.40,259.40 129.20,264.40 124.00,259.40" fill="#34905E"/>
<polygon points="144.72,256.00 149.92,261.00 144.72,266.00 139.52,261.00" fill="#34905E"/>
<polygon points="160.24,230.00 165.44,235.00 160.24,240.00 155.04,235.00" fill="#34905E"/>
<polygon points="175.76,187.00 180.96,192.00 175.76,197.00 170.56,192.00" fill="#34905E"/>
<polygon points="191.28,186.50 196.48,191.50 191.28,196.50 186.08,191.50" fill="#34905E"/>
<polygon points="206.80,159.50 212.00,164.50 206.80,169.50 201.60,164.50" fill="#34905E"/>
<polygon points="222.32,134.50 227.52,139.50 222.32,144.50 217.12,139.50" fill="#34905E"/>
<polygon points="237.84,137.50 243.04,142.50 237.84,147.50 232.64,142.50" fill="#34905E"/>
<polygon points="253.36,121.50 258.56,126.50 253.36,131.50 248.16,126.50" fill="#34905E"/>
<polygon points="268.88,107.00 274.08,112.00 268.88,117.00 263.68,112.00" fill="#34905E"/>
<polygon points="284.40,86.50 289.60,91.50 284.40,96.50 279.20,91.50" fill="#34905E"/>
<polygon points="299.92,79.00 305.12,84.00 299.92,89.00 294.72,84.00" fill="#34905E"/>
<polygon points="315.44,84.50 320.64,89.50 315.44,94.50 310.24,89.50" fill="#34905E"/>
<polygon points="330.96,69.50 336.16,74.50 330.96,79.50 325.76,74.50" fill="#34905E"/>
<polygon points="346.48,62.00 351.68,67.00 346.48,72.00 341.28,67.00" fill="#34905E"/>
<polygon points="362.00,61.50 367.20,66.50 362.00,71.50 356.80,66.50" fill="#34905E"/>
<polygon points="377.52,67.50 382.72,72.50 377.52,77.50 372.32,72.50" fill="#34905E"/>
<polygon points="393.04,46.50 398.24,51.50 393.04,56.50 387.84,51.50" fill="#34905E"/>
<polygon points="408.56,49.00 413.76,54.00 408.56,59.00 403.36,54.00" fill="#34905E"/>
<polygon points="424.08,58.50 429.28,63.50 424.08,68.50 418.88,63.50" fill="#34905E"/>
<polygon points="439.60,65.50 444.80,70.50 439.60,75.50 434.40,70.50" fill="#34905E"/>
<polygon points="455.12,53.50 460.32,58.50 455.12,63.50 449.92,58.50" fill="#34905E"/>
<polygon points="470.64,56.50 475.84,61.50 470.64,66.50 465.44,61.50" fill="#34905E"/>
<polygon points="486.16,55.00 491.36,60.00 486.16,65.00 480.96,60.00" fill="#34905E"/>
<polygon points="124.20,231.30 132.50,226.50 132.50,236.10" fill="#12A2D2"/>
<polygon points="139.72,192.80 148.02,188.00 148.02,197.60" fill="#12A2D2"/>
<polygon points="155.24,192.80 163.54,188.00 163.54,197.60" fill="#12A2D2"/>
<polygon points="170.76,154.00 179.06,149.20 179.06,158.80" fill="#12A2D2"/>
<polygon points="186.28,155.00 194.58,150.20 194.58,159.80" fill="#12A2D2"/>
<polygon points="201.80,147.00 210.10,142.20 210.10,151.80" fill="#12A2D2"/>
<polygon points="217.32,129.00 225.62,124.20 225.62,133.80" fill="#12A2D2"/>
<polygon points="232.84,137.50 241.14,132.70 241.14,142.30" fill="#12A2D2"/>
<polygon points="248.36,106.00 256.66,101.20 256.66,110.80" fill="#12A2D2"/>
<polygon points="263.88,102.00 272.18,97.20 272.18,106.80" fill="#12A2D2"/>
<polygon points="279.40,80.00 287.70,75.20 287.70,84.80" fill="#12A2D2"/>
<polygon points="294.92,79.00 303.22,74.20 303.22,83.80" fill="#12A2D2"/>
<polygon points="310.44,63.50 318.74,58.70 318.74,68.30" fill="#12A2D2"/>
<polygon points="325.96,65.50 334.26,60.70 334.26,70.30" fill="#12A2D2"/>
<polygon points="341.48,57.50 349.78,52.70 349.78,62.30" fill="#12A2D2"/>
<polygon points="357.00,50.50 365.30,45.70 365.30,55.30" fill="#12A2D2"/>
<polygon points="372.52,61.00 380.82,56.20 380.82,65.80" fill="#12A2D2"/>
<polygon points="388.04,42.00 396.34,37.20 396.34,46.80" fill="#12A2D2"/>
<polygon points="403.56,56.00 411.86,51.20 411.86,60.80" fill="#12A2D2"/>
<polygon points="419.08,58.50 427.38,53.70 427.38,63.30" fill="#12A2D2"/>
<polygon points="434.60,62.00 442.90,57.20 442.90,66.80" fill="#12A2D2"/>
<polygon points="450.12,53.00 458.42,48.20 458.42,57.80" fill="#12A2D2"/>
<polygon points="465.64,66.00 473.94,61.20 473.94,70.80" fill="#12A2D2"/>
<polygon points="481.16,65.50 489.46,60.70 489.46,70.30" fill="#12A2D2"/>
<rect x="364.2" y="100.8" width="171.6" height="242" fill="#fff"/>
<path d="M364.2 342.5 V100.8 H535.8 V342.5" fill="none" stroke="#8c8c8c" stroke-width="1.3"/>
<rect x="383.00" y="117.50" width="6.80" height="6.80" fill="#000000"/>
<text x="410.3" y="126.40" class="l">4</text>
<circle cx="423.55" cy="115.80" r="1.35" fill="none" stroke="#111" stroke-width="0.85"/><path d="M433.58 116.87 A4.6 5.9 0 1 0 433.37 124.45" fill="none" stroke="#111" stroke-width="1.15"/><path d="M433.58 116.27 L433.68 118.47" stroke="#111" stroke-width="0.9"/>
<circle cx="455.55" cy="120.90" r="3.90" fill="#FF0000"/>
<text x="479.15" y="126.40" class="l">5</text>
<circle cx="497.13" cy="115.80" r="1.35" fill="none" stroke="#111" stroke-width="0.85"/><path d="M507.15 116.87 A4.6 5.9 0 1 0 506.95 124.45" fill="none" stroke="#111" stroke-width="1.15"/><path d="M507.15 116.27 L507.25 118.47" stroke="#111" stroke-width="0.9"/>
<polygon points="386.40,136.56 391.20,144.86 381.60,144.86" fill="#0000FF"/>
<text x="410.3" y="147.26" class="l">6</text>
<circle cx="428.28" cy="136.66" r="1.35" fill="none" stroke="#111" stroke-width="0.85"/><path d="M438.30 137.73 A4.6 5.9 0 1 0 438.10 145.31" fill="none" stroke="#111" stroke-width="1.15"/><path d="M438.30 137.13 L438.40 139.33" stroke="#111" stroke-width="0.9"/>
<polygon points="460.28,146.96 465.08,138.66 455.48,138.66" fill="#FF00FF"/>
<text x="483.88" y="147.26" class="l">7</text>
<circle cx="501.86" cy="136.66" r="1.35" fill="none" stroke="#111" stroke-width="0.85"/><path d="M511.88 137.73 A4.6 5.9 0 1 0 511.67 145.31" fill="none" stroke="#111" stroke-width="1.15"/><path d="M511.88 137.13 L511.98 139.33" stroke="#111" stroke-width="0.9"/>
<polygon points="386.40,157.62 391.60,162.62 386.40,167.62 381.20,162.62" fill="#008000"/>
<text x="410.3" y="168.12" class="l">8</text>
<circle cx="428.28" cy="157.52" r="1.35" fill="none" stroke="#111" stroke-width="0.85"/><path d="M438.30 158.59 A4.6 5.9 0 1 0 438.10 166.17" fill="none" stroke="#111" stroke-width="1.15"/><path d="M438.30 157.99 L438.40 160.19" stroke="#111" stroke-width="0.9"/>
<polygon points="455.28,162.62 463.58,157.82 463.58,167.42" fill="#000080"/>
<text x="483.88" y="168.12" class="l">9</text>
<circle cx="501.86" cy="157.52" r="1.35" fill="none" stroke="#111" stroke-width="0.85"/><path d="M511.88 158.59 A4.6 5.9 0 1 0 511.67 166.17" fill="none" stroke="#111" stroke-width="1.15"/><path d="M511.88 157.99 L511.98 160.19" stroke="#111" stroke-width="0.9"/>
<polygon points="391.40,183.48 383.10,178.68 383.10,188.28" fill="#8000FF"/>
<text x="410.3" y="188.98" class="l">10</text>
<circle cx="437.73" cy="178.38" r="1.35" fill="none" stroke="#111" stroke-width="0.85"/><path d="M447.75 179.45 A4.6 5.9 0 1 0 447.55 187.03" fill="none" stroke="#111" stroke-width="1.15"/><path d="M447.75 178.85 L447.85 181.05" stroke="#111" stroke-width="0.9"/>
<polygon points="469.73,178.98 473.63,181.23 473.63,185.73 469.73,187.98 465.83,185.73 465.83,181.23" fill="#800080"/>
<text x="493.33" y="188.98" class="l">11</text>
<circle cx="520.76" cy="178.38" r="1.35" fill="none" stroke="#111" stroke-width="0.85"/><path d="M530.78 179.45 A4.6 5.9 0 1 0 530.58 187.03" fill="none" stroke="#111" stroke-width="1.15"/><path d="M530.78 178.85 L530.88 181.05" stroke="#111" stroke-width="0.9"/>
<polygon points="386.40,199.74 387.55,202.86 390.87,202.99 388.25,205.04 389.16,208.24 386.40,206.39 383.64,208.24 384.55,205.04 381.93,202.99 385.25,202.86" fill="#A00008"/>
<text x="410.3" y="209.84" class="l">12</text>
<circle cx="437.73" cy="199.24" r="1.35" fill="none" stroke="#111" stroke-width="0.85"/><path d="M447.75 200.31 A4.6 5.9 0 1 0 447.55 207.89" fill="none" stroke="#111" stroke-width="1.15"/><path d="M447.75 199.71 L447.85 201.91" stroke="#111" stroke-width="0.9"/>
<polygon points="469.73,200.14 474.10,203.32 472.43,208.46 467.03,208.46 465.36,203.32" fill="#808000"/>
<text x="493.33" y="209.84" class="l">13</text>
<circle cx="520.76" cy="199.24" r="1.35" fill="none" stroke="#111" stroke-width="0.85"/><path d="M530.78 200.31 A4.6 5.9 0 1 0 530.58 207.89" fill="none" stroke="#111" stroke-width="1.15"/><path d="M530.78 199.71 L530.88 201.91" stroke="#111" stroke-width="0.9"/>
<circle cx="386.40" cy="225.20" r="4.00" fill="#0B5FB0"/><circle cx="385.20" cy="224.10" r="1.30" fill="#d8e8f8"/>
<text x="410.3" y="230.70" class="l">14</text>
<circle cx="437.73" cy="220.10" r="1.35" fill="none" stroke="#111" stroke-width="0.85"/><path d="M447.75 221.17 A4.6 5.9 0 1 0 447.55 228.75" fill="none" stroke="#111" stroke-width="1.15"/><path d="M447.75 220.57 L447.85 222.77" stroke="#111" stroke-width="0.9"/>
<path d="M465.93 225.20H473.53M469.73 221.40V229.00" stroke="#48AEA8" stroke-width="1.10" fill="none"/>
<text x="493.33" y="230.70" class="l">15</text>
<circle cx="520.76" cy="220.10" r="1.35" fill="none" stroke="#111" stroke-width="0.85"/><path d="M530.78 221.17 A4.6 5.9 0 1 0 530.58 228.75" fill="none" stroke="#111" stroke-width="1.15"/><path d="M530.78 220.57 L530.88 222.77" stroke="#111" stroke-width="0.9"/>
<path d="M382.30 241.96L390.50 250.16M390.50 241.96L382.30 250.16" stroke="#D4A868" stroke-width="1.00" fill="none"/>
<text x="410.3" y="251.56" class="l">16</text>
<circle cx="437.73" cy="240.96" r="1.35" fill="none" stroke="#111" stroke-width="0.85"/><path d="M447.75 242.03 A4.6 5.9 0 1 0 447.55 249.61" fill="none" stroke="#111" stroke-width="1.15"/><path d="M447.75 241.43 L447.85 243.63" stroke="#111" stroke-width="0.9"/>
<path d="M465.43 246.06L474.03 246.06M469.73 241.76L469.73 250.36M466.03 242.36L473.43 249.76M473.43 242.36L466.03 249.76" stroke="#22C040" stroke-width="1.10" fill="none"/>
<text x="493.33" y="251.56" class="l">17</text>
<circle cx="520.76" cy="240.96" r="1.35" fill="none" stroke="#111" stroke-width="0.85"/><path d="M530.78 242.03 A4.6 5.9 0 1 0 530.58 249.61" fill="none" stroke="#111" stroke-width="1.15"/><path d="M530.78 241.43 L530.88 243.63" stroke="#111" stroke-width="0.9"/>
<path d="M382.40 266.92H390.40" stroke="#F050A8" stroke-width="1.50" fill="none"/>
<text x="410.3" y="272.42" class="l">18</text>
<circle cx="437.73" cy="261.82" r="1.35" fill="none" stroke="#111" stroke-width="0.85"/><path d="M447.75 262.89 A4.6 5.9 0 1 0 447.55 270.47" fill="none" stroke="#111" stroke-width="1.15"/><path d="M447.75 262.29 L447.85 264.49" stroke="#111" stroke-width="0.9"/>
<path d="M469.73 262.92V270.92" stroke="#60C8DC" stroke-width="1.50" fill="none"/>
<text x="493.33" y="272.42" class="l">19</text>
<circle cx="520.76" cy="261.82" r="1.35" fill="none" stroke="#111" stroke-width="0.85"/><path d="M530.78 262.89 A4.6 5.9 0 1 0 530.58 270.47" fill="none" stroke="#111" stroke-width="1.15"/><path d="M530.78 262.29 L530.88 264.49" stroke="#111" stroke-width="0.9"/>
<rect x="383.00" y="284.38" width="6.80" height="6.80" fill="#2B3BA0"/>
<text x="410.3" y="293.28" class="l">20</text>
<circle cx="437.73" cy="282.68" r="1.35" fill="none" stroke="#111" stroke-width="0.85"/><path d="M447.75 283.75 A4.6 5.9 0 1 0 447.55 291.33" fill="none" stroke="#111" stroke-width="1.15"/><path d="M447.75 283.15 L447.85 285.35" stroke="#111" stroke-width="0.9"/>
<circle cx="469.73" cy="287.78" r="3.90" fill="#8FAA10"/>
<text x="493.33" y="293.28" class="l">21</text>
<circle cx="520.76" cy="282.68" r="1.35" fill="none" stroke="#111" stroke-width="0.85"/><path d="M530.78 283.75 A4.6 5.9 0 1 0 530.58 291.33" fill="none" stroke="#111" stroke-width="1.15"/><path d="M530.78 283.15 L530.88 285.35" stroke="#111" stroke-width="0.9"/>
<polygon points="386.40,303.44 391.20,311.74 381.60,311.74" fill="#888888"/>
<text x="410.3" y="314.14" class="l">22</text>
<circle cx="437.73" cy="303.54" r="1.35" fill="none" stroke="#111" stroke-width="0.85"/><path d="M447.75 304.61 A4.6 5.9 0 1 0 447.55 312.19" fill="none" stroke="#111" stroke-width="1.15"/><path d="M447.75 304.01 L447.85 306.21" stroke="#111" stroke-width="0.9"/>
<polygon points="469.73,313.84 474.53,305.54 464.93,305.54" fill="#A86464"/>
<text x="493.33" y="314.14" class="l">23</text>
<circle cx="520.76" cy="303.54" r="1.35" fill="none" stroke="#111" stroke-width="0.85"/><path d="M530.78 304.61 A4.6 5.9 0 1 0 530.58 312.19" fill="none" stroke="#111" stroke-width="1.15"/><path d="M530.78 304.01 L530.88 306.21" stroke="#111" stroke-width="0.9"/>
<polygon points="386.40,324.50 391.60,329.50 386.40,334.50 381.20,329.50" fill="#34905E"/>
<text x="410.3" y="335.00" class="l">24</text>
<circle cx="437.73" cy="324.40" r="1.35" fill="none" stroke="#111" stroke-width="0.85"/><path d="M447.75 325.47 A4.6 5.9 0 1 0 447.55 333.05" fill="none" stroke="#111" stroke-width="1.15"/><path d="M447.75 324.87 L447.85 327.07" stroke="#111" stroke-width="0.9"/>
<polygon points="464.73,329.50 473.03,324.70 473.03,334.30" fill="#12A2D2"/>
<text x="493.33" y="335.00" class="l">25</text>
<circle cx="520.76" cy="324.40" r="1.35" fill="none" stroke="#111" stroke-width="0.85"/><path d="M530.78 325.47 A4.6 5.9 0 1 0 530.58 333.05" fill="none" stroke="#111" stroke-width="1.15"/><path d="M530.78 324.87 L530.88 327.07" stroke="#111" stroke-width="0.9"/>
<rect x="96.0" y="16.2" width="442.79999999999995" height="329.3" fill="none" stroke="#000" stroke-width="1.6"/>
<line x1="96.00" y1="345.5" x2="96.00" y2="352.5" stroke="#000" stroke-width="1.5"/>
<line x1="136.28" y1="345.5" x2="136.28" y2="349.3" stroke="#000" stroke-width="1.5"/>
<line x1="176.55" y1="345.5" x2="176.55" y2="352.5" stroke="#000" stroke-width="1.5"/>
<line x1="216.82" y1="345.5" x2="216.82" y2="349.3" stroke="#000" stroke-width="1.5"/>
<line x1="257.10" y1="345.5" x2="257.10" y2="352.5" stroke="#000" stroke-width="1.5"/>
<line x1="297.38" y1="345.5" x2="297.38" y2="349.3" stroke="#000" stroke-width="1.5"/>
<line x1="337.65" y1="345.5" x2="337.65" y2="352.5" stroke="#000" stroke-width="1.5"/>
<line x1="377.93" y1="345.5" x2="377.93" y2="349.3" stroke="#000" stroke-width="1.5"/>
<line x1="418.20" y1="345.5" x2="418.20" y2="352.5" stroke="#000" stroke-width="1.5"/>
<line x1="458.47" y1="345.5" x2="458.47" y2="349.3" stroke="#000" stroke-width="1.5"/>
<line x1="498.75" y1="345.5" x2="498.75" y2="352.5" stroke="#000" stroke-width="1.5"/>
<line x1="539.02" y1="345.5" x2="539.02" y2="349.3" stroke="#000" stroke-width="1.5"/>
<line x1="92.0" y1="38.00" x2="96.0" y2="38.00" stroke="#000" stroke-width="1.5"/>
<line x1="89.0" y1="82.00" x2="96.0" y2="82.00" stroke="#000" stroke-width="1.5"/>
<line x1="92.0" y1="126.00" x2="96.0" y2="126.00" stroke="#000" stroke-width="1.5"/>
<line x1="89.0" y1="170.00" x2="96.0" y2="170.00" stroke="#000" stroke-width="1.5"/>
<line x1="92.0" y1="214.00" x2="96.0" y2="214.00" stroke="#000" stroke-width="1.5"/>
<line x1="89.0" y1="258.00" x2="96.0" y2="258.00" stroke="#000" stroke-width="1.5"/>
<line x1="92.0" y1="302.00" x2="96.0" y2="302.00" stroke="#000" stroke-width="1.5"/>
<line x1="89.0" y1="346.00" x2="96.0" y2="346.00" stroke="#000" stroke-width="1.5"/>
<text x="96.00" y="373.6" text-anchor="middle" class="t">215</text>
<text x="176.55" y="373.6" text-anchor="middle" class="t">220</text>
<text x="257.10" y="373.6" text-anchor="middle" class="t">225</text>
<text x="337.65" y="373.6" text-anchor="middle" class="t">230</text>
<text x="418.20" y="373.6" text-anchor="middle" class="t">235</text>
<text x="498.75" y="373.6" text-anchor="middle" class="t">240</text>
<text x="85" y="87.70" text-anchor="end" class="t">0.00</text>
<text x="85" y="175.70" text-anchor="end" class="t">-0.02</text>
<text x="85" y="263.70" text-anchor="end" class="t">-0.04</text>
<text x="85" y="351.70" text-anchor="end" class="t">-0.06</text>
<text x="317" y="401" text-anchor="middle" class="t">Wavelength (nm)</text>
<text transform="translate(24,180.5) rotate(-90)" text-anchor="middle" class="t">Absorbance difference</text>
</svg>
</body></html>
